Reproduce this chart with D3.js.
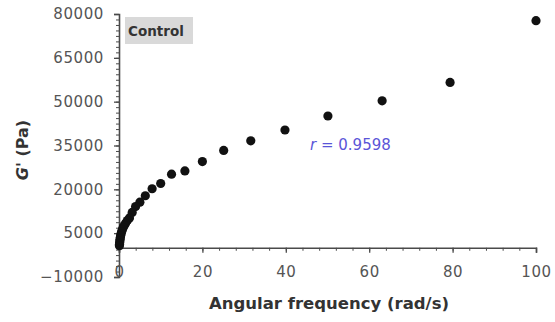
<!doctype html>
<html>
<head>
  <script src="https://d3js.org/d3.v7.min.js" charset="utf-8"></script>
  <style>
    body { margin: 0; background: #fff; }
  </style>
</head>
<body>
  <div id="viz"></div>
  <script>
  // data (angular frequency sweep, control sample)
  var freq = [100, 79.4, 63.1, 50.1, 39.8, 31.6, 25.1, 20, 15.8, 12.6, 10, 7.94, 6.31, 5.01,
              3.98, 3.16, 2.51, 2, 1.58, 1.26, 1, 0.794, 0.631, 0.501, 0.398, 0.316, 0.251,
              0.2, 0.158, 0.126, 0.1];
  var gPrime = [77700, 56600, 50300, 45100, 40300, 36600, 33300, 29500, 26300, 25200, 22000,
                20200, 17800, 15600, 14100, 12100, 10200, 9300, 8400, 7600, 6900, 6200, 5500,
                4800, 4100, 3500, 2900, 2300, 1700, 1200, 700];
  var xTicks = [0, 20, 40, 60, 80, 100];
  var yTicks = [-10000, 5000, 20000, 35000, 50000, 65000, 80000];
  var sampleLabel = "Control";
  var rLabel = "0.9598";

  var W = 555, H = 322;
  var svg = d3.select("#viz").append("svg")
      .attr("width", W).attr("height", H);

  // scales
  var x = d3.scaleLinear().domain([0, 100]).range([119, 536]);
  var y = d3.scaleLinear().domain([-10000, 80000]).range([277, 14]);

  var axisColor = "#4a4a4a";
  var labelColor = "#555";

  // minor ticks
  var xMinor = d3.range(0, 100.1, 4);
  var yMinor = d3.range(-10000, 80001, 1875);

  // y axis
  var gy = svg.append("g").attr("transform", "translate(" + x(0) + ",0)")
      .call(d3.axisLeft(y).tickValues(yMinor).tickSize(3).tickFormat(""));
  gy.select(".domain").remove();
  gy.selectAll("line").attr("stroke", axisColor).attr("stroke-width", 1);
  var gy2 = svg.append("g").attr("transform", "translate(" + x(0) + ",0)")
      .call(d3.axisLeft(y).tickValues(yTicks).tickSize(5).tickPadding(10).tickFormat(d3.format("d")));
  gy2.select(".domain").attr("stroke", axisColor).attr("stroke-width", 1.6);
  gy2.selectAll("line").attr("stroke", axisColor).attr("stroke-width", 1.3);
  gy2.selectAll("text")
      .attr("fill", labelColor)
      .style("font-family", "DejaVu Sans")
      .style("font-size", "15px")
      .style("letter-spacing", "0.6px");

  // x axis sits on y = 0
  var gx = svg.append("g").attr("transform", "translate(0," + y(0) + ")")
      .call(d3.axisBottom(x).tickValues(xMinor).tickSize(3).tickFormat(""));
  gx.select(".domain").remove();
  gx.selectAll("line").attr("stroke", axisColor).attr("stroke-width", 1);
  var gx2 = svg.append("g").attr("transform", "translate(0," + y(0) + ")")
      .call(d3.axisBottom(x).tickValues(xTicks).tickSize(5).tickPadding(14));
  gx2.select(".domain").attr("stroke", axisColor).attr("stroke-width", 1.6);
  gx2.selectAll("line").attr("stroke", axisColor).attr("stroke-width", 1.3);
  gx2.selectAll("text")
      .attr("fill", labelColor)
      .style("font-family", "DejaVu Sans")
      .style("font-size", "15px")
      .style("letter-spacing", "0.6px");

  // data points
  svg.selectAll("circle.pt")
      .data(freq)
      .enter().append("circle")
      .attr("class", "pt")
      .attr("cx", function(d) { return x(d); })
      .attr("cy", function(d, i) { return y(gPrime[i]); })
      .attr("r", 4.6)
      .attr("fill", "#111");

  // sample label with grey box
  svg.append("rect")
      .attr("x", 125).attr("y", 17).attr("width", 68).attr("height", 27)
      .attr("fill", "#d9d9d9");
  svg.append("text")
      .attr("x", 128).attr("y", 36)
      .attr("fill", "#333")
      .style("font-family", "DejaVu Sans")
      .style("font-size", "13.5px")
      .style("font-weight", "bold")
      .text(sampleLabel);

  // correlation label
  var rt = svg.append("text")
      .attr("x", 310).attr("y", 150)
      .attr("fill", "#5a55d8")
      .style("font-family", "DejaVu Sans")
      .style("font-size", "15px");
  rt.append("tspan").style("font-style", "italic").text("r");
  rt.append("tspan").text(" = " + rLabel);

  // axis titles
  svg.append("text")
      .attr("x", 329).attr("y", 309)
      .attr("text-anchor", "middle")
      .attr("fill", "#333")
      .style("font-family", "DejaVu Sans")
      .style("font-size", "16.5px")
      .style("font-weight", "bold")
      .text("Angular frequency (rad/s)");

  var yt = svg.append("text")
      .attr("transform", "translate(28,150) rotate(-90)")
      .attr("text-anchor", "middle")
      .attr("fill", "#333")
      .style("font-family", "DejaVu Sans")
      .style("font-size", "16px")
      .style("font-weight", "bold");
  yt.append("tspan").style("font-style", "italic").text("G'");
  yt.append("tspan").text(" (Pa)");
  </script>
</body>
</html>
